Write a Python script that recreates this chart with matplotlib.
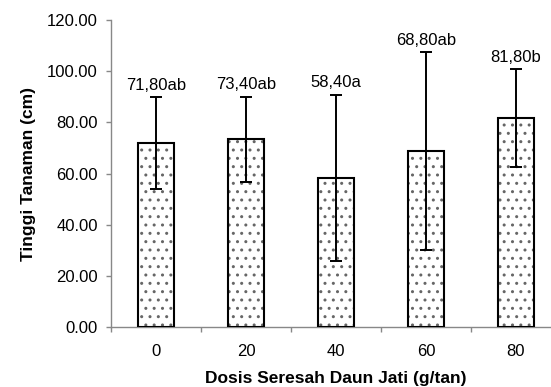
import numpy as np
import matplotlib
matplotlib.use("Agg")
import matplotlib.pyplot as plt
from matplotlib.ticker import FixedLocator, FormatStrFormatter

# data
doses = ["0", "20", "40", "60", "80"]
heights = [71.8, 73.4, 58.4, 68.8, 81.8]
errors = [18.0, 16.7, 32.5, 38.7, 19.1]
labels = ["71,80ab", "73,40ab", "58,40a", "68,80ab", "81,80b"]

plt.rcParams['font.family'] = ['Liberation Sans', 'DejaVu Sans']
plt.rcParams['hatch.linewidth'] = 1.0

fig = plt.figure(figsize=(5.51, 3.87), dpi=100)
ax = fig.add_axes([0.2015, 0.155, 0.8165, 0.793])

x = np.arange(len(doses))
# dotted fill, grey dots
ax.bar(x, heights, width=0.4, color='white', edgecolor='#666666',
       hatch='..', linewidth=0, zorder=2)
# black outline
ax.bar(x, heights, width=0.4, fill=False, edgecolor='black',
       linewidth=1.5, zorder=3)
ax.errorbar(x, heights, yerr=errors, fmt='none', ecolor='black',
            elinewidth=1.4, capsize=4.5, capthick=1.4, zorder=4)

for xi, h, e, lab in zip(x, heights, errors, labels):
    ax.annotate(lab, (xi, h + e), xytext=(0, 3), textcoords='offset points',
                ha='center', va='bottom', fontsize=12)

ax.set_xlim(-0.5, len(doses) - 0.5)
ax.set_ylim(0, 120)
ax.set_yticks(np.arange(0, 121, 20))
ax.yaxis.set_major_formatter(FormatStrFormatter('%.2f'))

ax.set_xticks(x)
ax.set_xticklabels(doses)
ax.xaxis.set_minor_locator(FixedLocator(np.arange(-0.5, len(doses), 1.0)))
ax.tick_params(axis='x', which='major', length=0, pad=12, labelsize=12)
ax.tick_params(axis='x', which='minor', length=3.6, width=1, color='#888888',
               direction='out')
ax.tick_params(axis='y', length=3.6, width=1, color='#888888', direction='out',
               labelsize=12, pad=6)

for side in ['top', 'right']:
    ax.spines[side].set_visible(False)
for side in ['left', 'bottom']:
    ax.spines[side].set_color('#888888')
    ax.spines[side].set_linewidth(1.0)

ax.set_xlabel("Dosis Seresah Daun Jati (g/tan)", fontsize=12.5,
              fontweight='bold', labelpad=9)
ax.set_ylabel("Tinggi Tanaman (cm)", fontsize=12.5, fontweight='bold',
              labelpad=8)

fig.savefig("out.png", dpi=100)
